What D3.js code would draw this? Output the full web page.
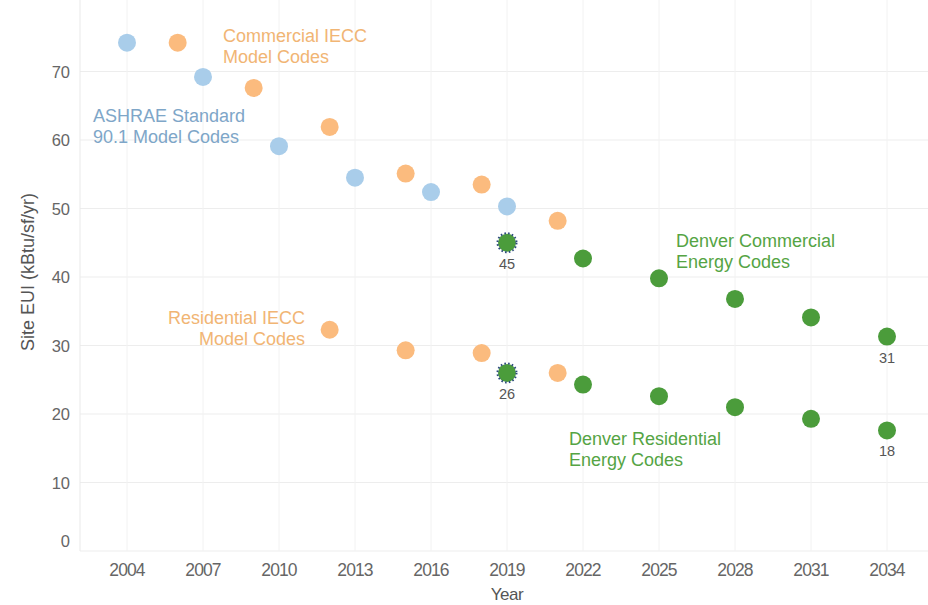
<!DOCTYPE html>
<html><head><meta charset="utf-8">
<script src="https://cdn.jsdelivr.net/npm/d3@7"></script>
<style>body{margin:0;background:#fff;} svg{display:block;}</style>
</head><body>
<svg id="c" width="928" height="605"></svg>
<script>
const xTicks = [2004,2007,2010,2013,2016,2019,2022,2025,2028,2031,2034];
const yTicks = [0,10,20,30,40,50,60,70];
const ashraeYears = [2004,2007,2010,2013,2016,2019];
const ashraeValues = [74.2,69.2,59.1,54.5,52.4,50.3];
const commIeccYears = [2006,2009,2012,2015,2018,2021];
const commIeccValues = [74.2,67.6,61.9,55.1,53.5,48.2];
const resIeccYears = [2012,2015,2018,2021];
const resIeccValues = [32.3,29.3,28.9,26.0];
const denverYears = [2019,2022,2025,2028,2031,2034];
const denverCommValues = [45,42.7,39.8,36.8,34.1,31.3];
const denverResValues = [26,24.3,22.6,21.0,19.3,17.6];
const valueLabels = [{year:2019,v:45,t:"45"},{year:2019,v:26,t:"26"},{year:2034,v:31.3,t:"31"},{year:2034,v:17.6,t:"18"}];

const svg = d3.select("#c");
const x = d3.scaleLinear().domain([2004,2034]).range([127,887]);
const y = d3.scaleLinear().domain([0,70]).range([551,71.5]);
const pl = 80, pr = 928, pt = 0, pb = 551;
const FF = "Liberation Sans, Arial, sans-serif";

svg.append("g").selectAll("line").data(yTicks).join("line")
  .attr("x1",pl).attr("x2",pr).attr("y1",d=>y(d)).attr("y2",d=>y(d))
  .attr("stroke","#ededed").attr("stroke-width",1);
svg.append("g").selectAll("line").data(xTicks).join("line")
  .attr("x1",d=>x(d)).attr("x2",d=>x(d)).attr("y1",pt).attr("y2",pb)
  .attr("stroke","#f2f2f2").attr("stroke-width",1);
svg.append("line").attr("x1",pl).attr("x2",pl).attr("y1",pt).attr("y2",pb).attr("stroke","#e9e9e9");

svg.append("g").selectAll("text").data(yTicks).join("text")
  .attr("x",70).attr("y",d=> d===0 ? y(d)-4 : y(d)+6).attr("text-anchor","end")
  .attr("font-family",FF).attr("font-size",16.5).attr("fill","#666")
  .text(d=>d);
svg.append("g").selectAll("text").data(xTicks).join("text")
  .attr("x",d=>x(d)).attr("y",576).attr("text-anchor","middle")
  .attr("font-family",FF).attr("font-size",17.5).attr("letter-spacing","-0.9px").attr("fill","#666")
  .text(d=>d);
svg.append("text").attr("x",507).attr("y",600).attr("text-anchor","middle")
  .attr("font-family",FF).attr("font-size",17).attr("letter-spacing","-0.5px").attr("fill","#555").text("Year");
svg.append("text").attr("transform","translate(34,272) rotate(-90)").attr("text-anchor","middle")
  .attr("font-family",FF).attr("font-size",18).attr("fill","#555").text("Site EUI (kBtu/sf/yr)");

const r = 9;
function dots(years, vals, color){
  svg.append("g").selectAll("circle").data(years.map((yr,i)=>({yr,v:vals[i]}))).join("circle")
    .attr("cx",d=>x(d.yr)).attr("cy",d=>y(d.v)).attr("r",r).attr("fill",color);
}
dots(ashraeYears, ashraeValues, "#a9cdea");
dots(commIeccYears, commIeccValues, "#fbbb7e");
dots(resIeccYears, resIeccValues, "#fbbb7e");
dots(denverYears, denverCommValues, "#4b9c3b");
dots(denverYears, denverResValues, "#4b9c3b");
svg.append("g").selectAll("circle").data([denverCommValues[0], denverResValues[0]]).join("circle")
  .attr("cx",x(2019)).attr("cy",d=>y(d)).attr("r",r+0.5).attr("fill","none")
  .attr("stroke","#2a4a7a").attr("stroke-width",2).attr("stroke-dasharray","1.6,2.2");

svg.append("g").selectAll("text").data(valueLabels).join("text")
  .attr("x",d=>x(d.year)).attr("y",d=>y(d.v)+26).attr("text-anchor","middle")
  .attr("font-family",FF).attr("font-size",14.5).attr("fill","#555")
  .text(d=>d.t);

function label(lines, xx, yy, anchor, color){
  const t = svg.append("text").attr("x",xx).attr("y",yy).attr("text-anchor",anchor)
    .attr("font-family",FF).attr("font-size",18).attr("fill",color);
  lines.forEach((l,i)=>t.append("tspan").attr("x",xx).attr("dy",i?21:0).text(l));
}
label(["Commercial IECC","Model Codes"],223,42,"start","#f1b574");
label(["ASHRAE Standard","90.1 Model Codes"],93,122,"start","#7ea6c8");
label(["Residential IECC","Model Codes"],305,324,"end","#f1b574");
label(["Denver Commercial","Energy Codes"],676,247,"start","#55a444");
label(["Denver Residential","Energy Codes"],569,445,"start","#55a444");
</script>
</body></html>
